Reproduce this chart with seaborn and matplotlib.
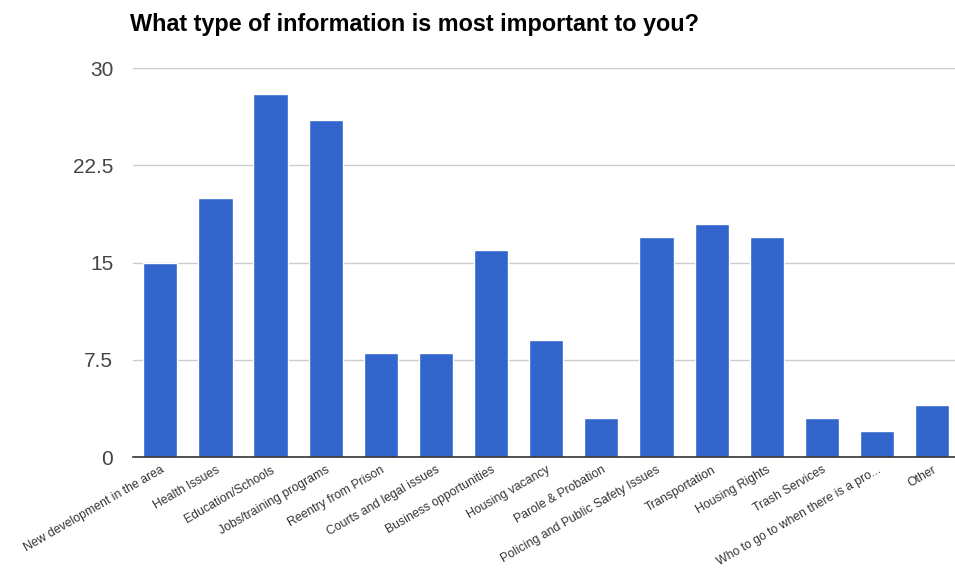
import matplotlib
matplotlib.use('Agg')
import matplotlib.pyplot as plt
import seaborn as sns
import pandas as pd

categories = [
    'New development in the area', 'Health Issues', 'Education/Schools',
    'Jobs/training programs', 'Reentry from Prison', 'Courts and legal issues',
    'Business opportunities', 'Housing vacancy', 'Parole & Probation',
    'Policing and Public Safety Issues', 'Transportation', 'Housing Rights',
    'Trash Services', 'Who to go to when there is a pro...', 'Other'
]
counts = [15, 20, 28, 26, 8, 8, 16, 9, 3, 17, 18, 17, 3, 2, 4]
y_ticks = [0, 7.5, 15, 22.5, 30]
y_tick_labels = ['0', '7.5', '15', '22.5', '30']

df = pd.DataFrame({'category': categories, 'count': counts})

sns.set_style('white')
plt.rcParams['font.family'] = ['Liberation Sans', 'DejaVu Sans']

fig = plt.figure(figsize=(9.55, 5.72), dpi=100)
ax = fig.add_axes([0.139, 0.201, 0.866, 0.68])

sns.barplot(data=df, x='category', y='count', color='#3366CC', width=0.62,
            saturation=1, ax=ax, zorder=3)

ax.set_ylim(0, 30)
ax.set_xlim(-0.5, 14.5)
ax.set_yticks(y_ticks)
ax.set_yticklabels(y_tick_labels, fontsize=15, color='#444444')
ax.yaxis.grid(True, color='#cccccc', linewidth=1, zorder=0)
ax.tick_params(axis='y', length=0, pad=14)
ax.tick_params(axis='x', length=0, pad=5)
ax.set_xticks(range(len(categories)))
ax.set_xticklabels(categories, rotation=30, ha='right', rotation_mode='anchor',
                   fontsize=8.8, color='#333333')
ax.set_xlabel('')
ax.set_ylabel('')
for s in ['top', 'right', 'left']:
    ax.spines[s].set_visible(False)
ax.spines['bottom'].set_color('#333333')
ax.spines['bottom'].set_linewidth(1.2)
ax.spines['bottom'].set_zorder(4)

fig.text(0.136, 0.957, 'What type of information is most important to you?',
         fontsize=16.8, fontweight='bold', ha='left', va='center', color='#000000')

fig.savefig('out.png', dpi=100)
